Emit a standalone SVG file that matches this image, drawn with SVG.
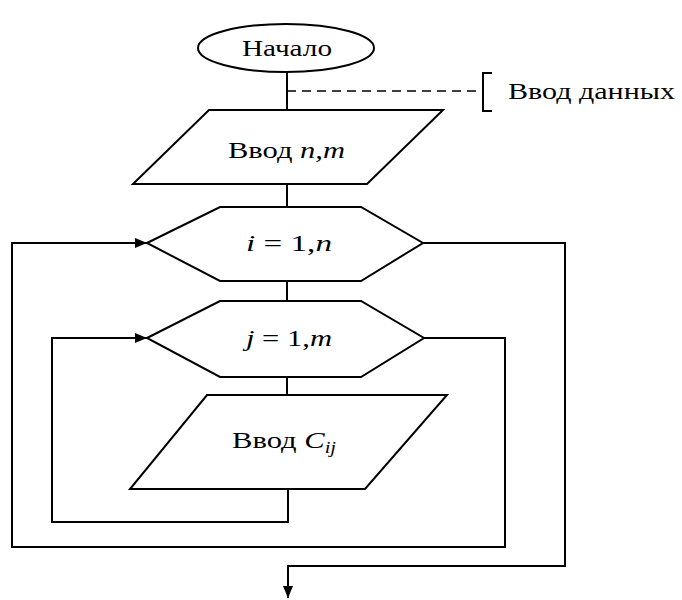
<svg xmlns="http://www.w3.org/2000/svg" width="682" height="600" viewBox="0 0 682 600">
  <style>
    .shape { fill: #ffffff; stroke: #000000; stroke-width: 2; stroke-linejoin: miter; }
    .line { fill: none; stroke: #000000; stroke-width: 2; }
    .dash { fill: none; stroke: #000000; stroke-width: 1.6; stroke-dasharray: 9 6; }
    .label { font-family: "Liberation Serif", "Times New Roman", serif; font-size: 24px; fill: #000000; }
    .it { font-style: italic; }
  </style>
  <defs>
    <marker id="arrow" viewBox="0 0 12 10" refX="12" refY="5" markerWidth="12" markerHeight="10" markerUnits="userSpaceOnUse" orient="auto">
      <path d="M0,0 L12,5 L0,10 Z" fill="#000000"/>
    </marker>
  </defs>

  <rect x="0" y="0" width="682" height="600" fill="#ffffff"/>

  <!-- connectors -->
  <g id="connectors">
    <line class="line" x1="287" y1="72" x2="287" y2="110"/>
    <line class="line" x1="287" y1="184" x2="287" y2="207"/>
    <line class="line" x1="287" y1="281" x2="287" y2="301"/>
    <line class="line" x1="287" y1="377" x2="287" y2="395"/>
    <!-- inner loop: back from the input block to the j header -->
    <polyline class="line" points="288,489 288,522 52,522 52,338 147,338" marker-end="url(#arrow)"/>
    <!-- outer loop: from the j exit back to the i header -->
    <polyline class="line" points="424,338 505,338 505,547 12,547 12,243 147,243" marker-end="url(#arrow)"/>
    <!-- exit from the i loop -->
    <polyline class="line" points="423,243 565,243 565,566 288,566 288,598" marker-end="url(#arrow)"/>
    <!-- comment link -->
    <line class="dash" x1="287" y1="91" x2="483" y2="91"/>
    <polyline class="line" points="492,73 483,73 483,111 492,111"/>
  </g>

  <g id="start">
    <ellipse class="shape" cx="286" cy="48" rx="88" ry="24"/>
    <text class="label" x="287" y="56" text-anchor="middle" textLength="90" lengthAdjust="spacingAndGlyphs">Начало</text>
  </g>

  <g id="comment">
    <text class="label" x="508" y="99" textLength="167" lengthAdjust="spacingAndGlyphs">Ввод данных</text>
  </g>

  <g id="input-nm">
    <polygon class="shape" points="209,110 443,110 367,184 133,184"/>
    <text class="label" x="228" y="158" textLength="117" lengthAdjust="spacingAndGlyphs">Ввод <tspan class="it">n,m</tspan></text>
  </g>

  <g id="loop-i">
    <polygon class="shape" points="147,243 220,207 361,207 423,243 361,281 220,281"/>
    <text class="label" x="246" y="251" textLength="86" lengthAdjust="spacingAndGlyphs"><tspan class="it">i</tspan> = 1,<tspan class="it">n</tspan></text>
  </g>

  <g id="loop-j">
    <polygon class="shape" points="147,338 220,301 361,301 424,338 361,377 220,377"/>
    <text class="label" x="246" y="346" textLength="86" lengthAdjust="spacingAndGlyphs"><tspan class="it">j</tspan> = 1,<tspan class="it">m</tspan></text>
  </g>

  <g id="input-c">
    <polygon class="shape" points="207,395 447,395 365,489 130,489"/>
    <text class="label" x="232" y="448" textLength="104" lengthAdjust="spacingAndGlyphs">Ввод <tspan class="it">C</tspan><tspan class="it" font-size="16" dy="5">ij</tspan></text>
  </g>
</svg>
